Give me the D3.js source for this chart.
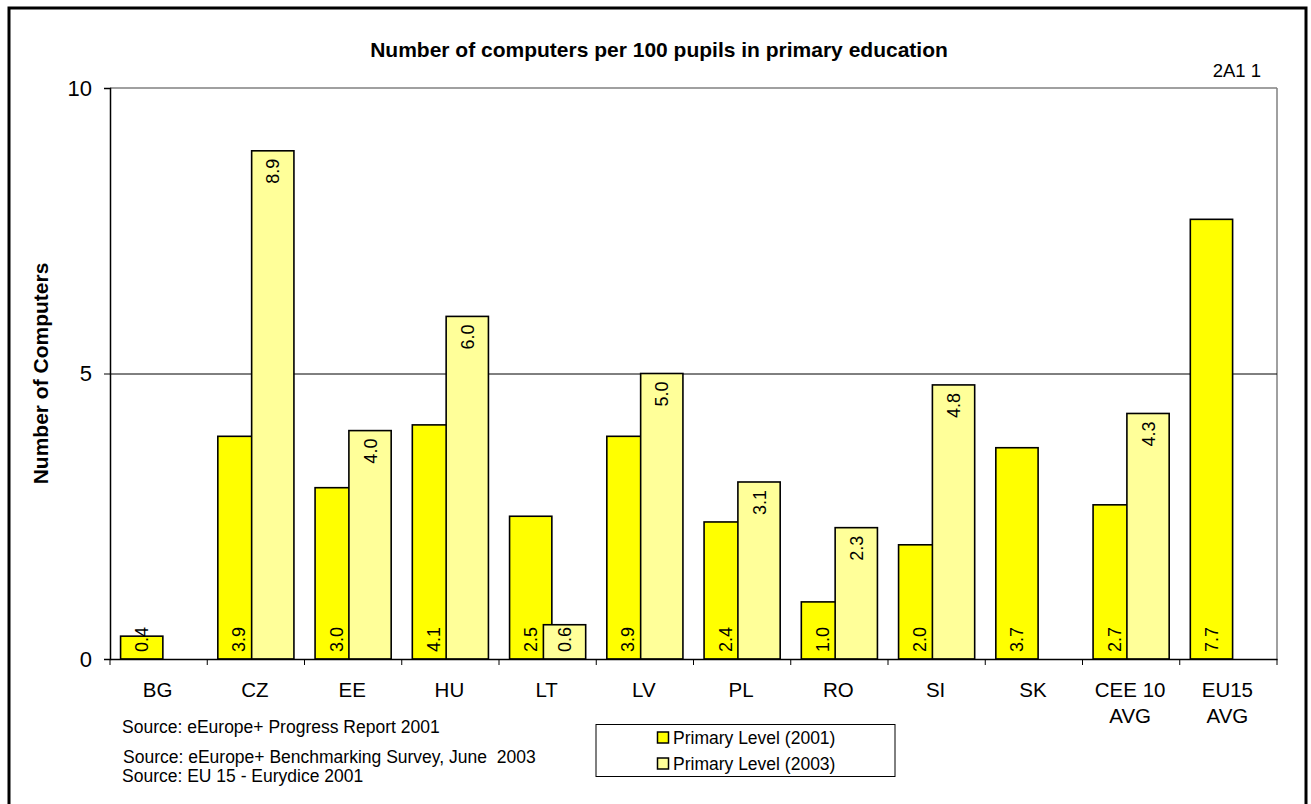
<!DOCTYPE html>
<html>
<head>
<meta charset="utf-8">
<script src="https://cdn.jsdelivr.net/npm/d3@7"></script>
<style>
  html, body { margin: 0; padding: 0; background: #fff; }
  svg { display: block; }
  text { font-family: Arial, "Liberation Sans", sans-serif; fill: #000; }
</style>
</head>
<body>
<svg id="chart" width="1311" height="804"></svg>
<script>
// Computers per 100 pupils, primary level
const categories = ["BG", "CZ", "EE", "HU", "LT", "LV", "PL", "RO", "SI", "SK", "CEE 10\nAVG", "EU15\nAVG"];
const values2001 = [0.4, 3.9, 3.0, 4.1, 2.5, 3.9, 2.4, 1.0, 2.0, 3.7, 2.7, 7.7];
const values2003 = [null, 8.9, 4.0, 6.0, 0.6, 5.0, 3.1, 2.3, 4.8, null, 4.3, null];
const seriesNames = ["Primary Level (2001)", "Primary Level (2003)"];
const yTicks = [0, 5, 10];
const sources = [
  "Source: eEurope+ Progress Report 2001",
  "Source: eEurope+ Benchmarking Survey, June  2003",
  "Source: EU 15 - Eurydice 2001"
];

const colors = ["#FFFF00", "#FFFF99"];

const svg = d3.select("#chart");

// outer frame
svg.append("rect")
  .attr("x", 9).attr("y", 8).attr("width", 1297).attr("height", 810)
  .attr("fill", "none").attr("stroke", "#000").attr("stroke-width", 3);

const plot = { left: 110, right: 1277, top: 88, bottom: 659 };

const x = d3.scaleBand().domain(categories).range([plot.left, plot.right]).padding(0);
const y = d3.scaleLinear().domain([0, 10]).range([plot.bottom, plot.top]);

// bar geometry within each category: gap width 50%, overlap 20%
const bw = x.bandwidth() / 2.3;
const pad = bw * 0.25;
const step = bw * 0.8;

// plot area border (top & right) and gridlines
svg.append("line")
  .attr("x1", plot.left).attr("x2", plot.right)
  .attr("y1", y(10)).attr("y2", y(10))
  .attr("stroke", "#808080").attr("stroke-width", 1.5);
svg.append("line")
  .attr("x1", plot.right).attr("x2", plot.right)
  .attr("y1", y(10)).attr("y2", y(0))
  .attr("stroke", "#808080").attr("stroke-width", 1.5);
svg.append("g").selectAll("line")
  .data(yTicks.filter(t => t > 0 && t < 10))
  .join("line")
  .attr("x1", plot.left).attr("x2", plot.right)
  .attr("y1", d => y(d) + 0.5).attr("y2", d => y(d) + 0.5)
  .attr("stroke", "#000").attr("stroke-width", 1);

// bars
const rows = categories.map((c, i) => ({ c, v1: values2001[i], v2: values2003[i] }));

const g = svg.append("g");
g.selectAll("rect.s1")
  .data(rows.filter(d => d.v1 != null))
  .join("rect")
  .attr("class", "s1")
  .attr("x", d => x(d.c) + pad)
  .attr("y", d => y(d.v1))
  .attr("width", bw)
  .attr("height", d => y(0) - y(d.v1))
  .attr("fill", colors[0]).attr("stroke", "#000").attr("stroke-width", 1.6);

g.selectAll("rect.s2")
  .data(rows.filter(d => d.v2 != null))
  .join("rect")
  .attr("class", "s2")
  .attr("x", d => x(d.c) + pad + step)
  .attr("y", d => y(d.v2))
  .attr("width", bw)
  .attr("height", d => y(0) - y(d.v2))
  .attr("fill", colors[1]).attr("stroke", "#000").attr("stroke-width", 1.6);

// value labels, rotated to read upward
const labelSize = 18;
const fmt = d3.format(".1f");

g.selectAll("text.l1")
  .data(rows.filter(d => d.v1 != null))
  .join("text")
  .attr("class", "l1")
  .attr("font-size", labelSize)
  .attr("text-anchor", "start")
  .attr("transform", d => `translate(${x(d.c) + pad + bw / 2 + 6.5},${y(0) - 7}) rotate(-90)`)
  .text(d => fmt(d.v1));

g.selectAll("text.l2")
  .data(rows.filter(d => d.v2 != null))
  .join("text")
  .attr("class", "l2")
  .attr("font-size", labelSize)
  .attr("text-anchor", "start")
  .text(d => fmt(d.v2))
  .attr("transform", function (d) {
    const len = this.getComputedTextLength();
    const startY = Math.min(y(d.v2) + 8 + len, y(0) - 7);
    return `translate(${x(d.c) + pad + step + bw / 2 + 6.5},${startY}) rotate(-90)`;
  });

// axes
const yAxis = d3.axisLeft(y).tickValues(yTicks).tickSize(6).tickPadding(12).tickFormat(d3.format("d"));
const ya = svg.append("g").attr("transform", `translate(${plot.left},0)`).call(yAxis);
ya.select(".domain").attr("stroke", "#000").attr("stroke-width", 1.5);
ya.selectAll(".tick line").attr("stroke", "#000");
ya.selectAll(".tick text").attr("font-size", 22).attr("font-family", "Arial, 'Liberation Sans', sans-serif");

const xAxis = d3.axisBottom(x).tickSize(0).tickFormat("");
const xa = svg.append("g").attr("transform", `translate(0,${plot.bottom})`).call(xAxis);
xa.select(".domain").attr("stroke", "#000").attr("stroke-width", 1.5);

// category boundary ticks
svg.append("g").selectAll("line")
  .data(categories.map(c => x(c)).concat([plot.right]))
  .join("line")
  .attr("x1", d => d).attr("x2", d => d)
  .attr("y1", plot.bottom).attr("y2", plot.bottom + 6)
  .attr("stroke", "#000");

// category labels (multi-line)
const cl = svg.append("g").selectAll("text")
  .data(categories)
  .join("text")
  .attr("font-size", 20.5)
  .attr("text-anchor", "middle")
  .attr("transform", d => `translate(${x(d) + x.bandwidth() / 2 - 1},${plot.bottom + 38})`);
cl.each(function (d) {
  const t = d3.select(this);
  d.split("\n").forEach((line, i) => {
    t.append("tspan").attr("x", 0).attr("y", i * 26).text(line);
  });
});

// title
svg.append("text")
  .attr("x", 659).attr("y", 57)
  .attr("text-anchor", "middle")
  .attr("font-size", 21).attr("font-weight", "bold")
  .text("Number of computers per 100 pupils in primary education");

svg.append("text")
  .attr("x", 1261).attr("y", 77)
  .attr("text-anchor", "end")
  .attr("font-size", 18.5)
  .text("2A1 1");

// y axis title
svg.append("text")
  .attr("transform", `translate(48,${(262 + 485) / 2}) rotate(-90)`)
  .attr("text-anchor", "middle")
  .attr("font-size", 21).attr("font-weight", "bold")
  .text("Number of Computers");

// source notes (spacing kept as written)
svg.append("g").selectAll("text")
  .data(sources)
  .join("text")
  .attr("x", (d, i) => i === 1 ? 123 : 122)
  .attr("y", (d, i) => [733, 763, 782][i])
  .attr("font-size", 17.5)
  .style("white-space", "pre")
  .text(d => d);

// legend
const lg = svg.append("g");
lg.append("rect")
  .attr("x", 596).attr("y", 724.5).attr("width", 299).attr("height", 52)
  .attr("fill", "#fff").attr("stroke", "#000").attr("stroke-width", 1);
seriesNames.forEach((name, i) => {
  const yy = 732 + i * 26;
  lg.append("rect")
    .attr("x", 657.5).attr("y", yy).attr("width", 11).attr("height", 11)
    .attr("fill", colors[i]).attr("stroke", "#000").attr("stroke-width", 1.5);
  lg.append("text")
    .attr("x", 673).attr("y", yy + 11.5)
    .attr("font-size", 17.5)
    .text(name);
});
</script>
</body>
</html>
